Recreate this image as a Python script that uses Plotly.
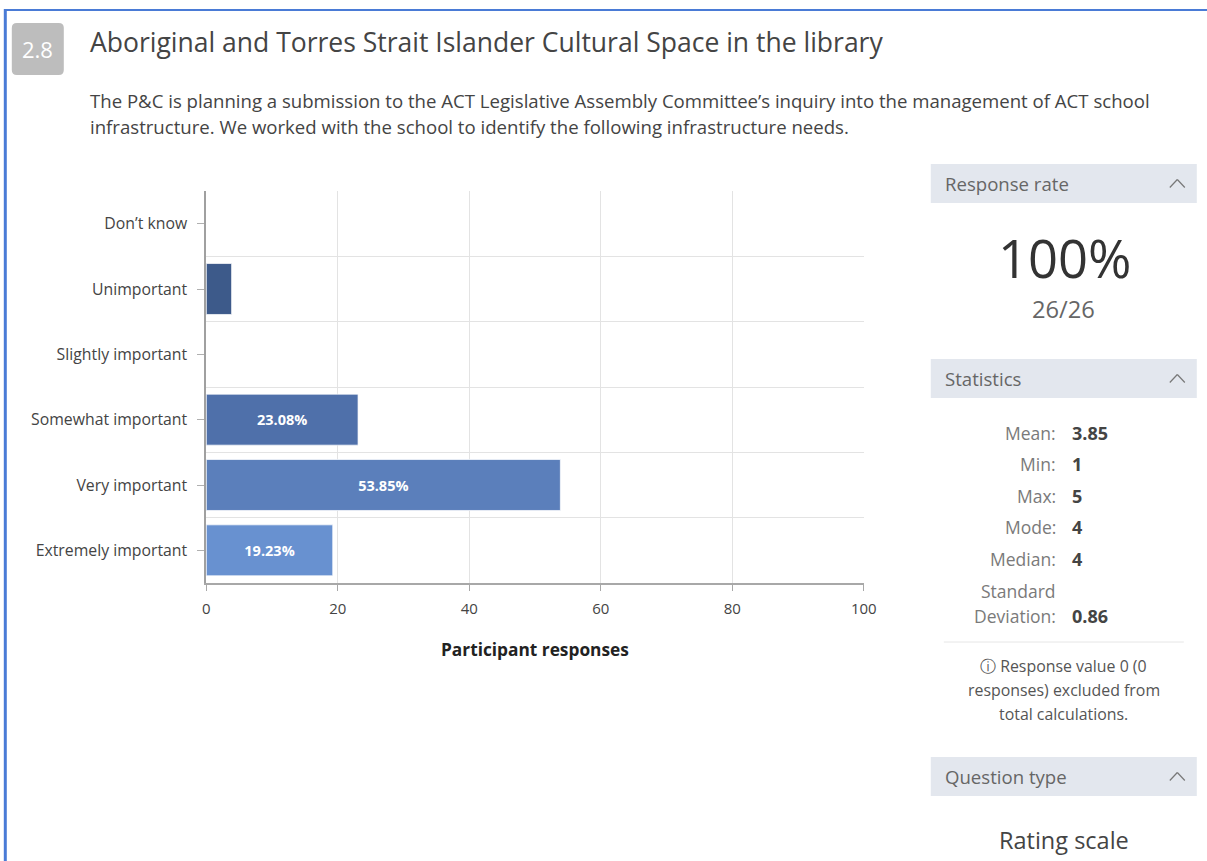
import plotly.graph_objects as go

# Survey question 2.8 results
categories = ["Don’t know", "Unimportant", "Slightly important",
              "Somewhat important", "Very important", "Extremely important"]
percentages = [0.0, 3.85, 0.0, 23.08, 53.85, 19.23]
bar_colors = ["#3a5a8c", "#3d5a8a", "#4a6aa3", "#4f70aa", "#5b7fbb", "#6891d0"]
x_ticks = [0, 20, 40, 60, 80, 100]

stat_labels = ["Mean:", "Min:", "Max:", "Mode:", "Median:"]
stat_values = ["3.85", "1", "5", "4", "4"]
std_dev = "0.86"
responses, total = 26, 26

W, H = 1207, 861
FONT = "Open Sans"
# page grid used for placing panels and text (pixel units)
GRID_X0, GRID_W = 4.2, 1190.0


def px(x):
    return (x - GRID_X0) / GRID_W


def py(y):
    return 1 - y / H


labels = [f"<b>{v:.2f}%</b>" if v >= 10 else "" for v in percentages]

fig = go.Figure()
fig.add_trace(go.Bar(
    x=percentages,
    y=list(range(len(categories))),
    orientation="h",
    width=0.78,
    marker=dict(color=bar_colors, line=dict(color="rgba(255,255,255,0.7)", width=1)),
    text=labels,
    textposition="inside",
    insidetextanchor="middle",
    textfont=dict(family=FONT, size=14.5, color="white"),
    hoverinfo="skip",
))

fig.update_layout(
    width=W, height=H, autosize=False,
    margin=dict(l=0, r=0, t=0, b=0),
    paper_bgcolor="white", plot_bgcolor="white",
    showlegend=False,
    font=dict(family=FONT, color="#444"),
    xaxis=dict(
        domain=[px(206.5), px(864)],
        range=[0, 100], tickvals=x_ticks,
        showgrid=True, gridcolor="#e3e3e3", gridwidth=1,
        zeroline=False,
        showline=True, linecolor="#a8a8a8", linewidth=2,
        ticks="outside", ticklen=6, tickcolor="#a8a8a8",
        ticklabelstandoff=5,
        tickfont=dict(family=FONT, size=15, color="#444"),
        fixedrange=True,
    ),
    yaxis=dict(
        domain=[py(583), py(191)],
        range=[5.5, -0.5],
        tickvals=list(range(len(categories))), ticktext=categories,
        showgrid=False, zeroline=False,
        showline=True, linecolor="#a0a0a0", linewidth=2,
        ticks="outside", ticklen=7, tickcolor="#b0b0b0",
        ticklabelstandoff=7,
        tickfont=dict(family=FONT, size=15.8, color="#444"),
        minor=dict(tickvals=[i - 0.5 for i in range(len(categories) + 1)],
                   showgrid=True, gridcolor="#e3e3e3", gridwidth=1, ticks=""),
        fixedrange=True,
    ),
)

shapes = []
ann = []

# Page frame
shapes.append(dict(type="line", xref="paper", yref="paper",
                   x0=px(5), x1=px(1210), y0=py(10), y1=py(10),
                   line=dict(color="#4a7bd6", width=2)))
shapes.append(dict(type="line", xref="paper", yref="paper",
                   x0=px(5.5), x1=px(5.5), y0=py(9), y1=0,
                   line=dict(color="#4a7bd6", width=3)))

# Question number badge (rounded square)
x0, x1, y0, y1, r = 12, 64, 23, 75, 5
path = (f"M {px(x0 + r)},{py(y0)} L {px(x1 - r)},{py(y0)} "
        f"Q {px(x1)},{py(y0)} {px(x1)},{py(y0 + r)} L {px(x1)},{py(y1 - r)} "
        f"Q {px(x1)},{py(y1)} {px(x1 - r)},{py(y1)} L {px(x0 + r)},{py(y1)} "
        f"Q {px(x0)},{py(y1)} {px(x0)},{py(y1 - r)} L {px(x0)},{py(y0 + r)} "
        f"Q {px(x0)},{py(y0)} {px(x0 + r)},{py(y0)} Z")
shapes.append(dict(type="path", xref="paper", yref="paper", path=path,
                   fillcolor="#bdbdbd", line=dict(width=0)))
ann.append(dict(text="2.8", x=px(38), y=py(49), font=dict(size=22, color="white")))

# Title and description
ann.append(dict(text="Aboriginal and Torres Strait Islander Cultural Space in the library",
                x=px(88), y=py(42), xanchor="left", font=dict(size=26.5, color="#444")))
ann.append(dict(text="The P&C is planning a submission to the ACT Legislative Assembly Committee’s "
                     "inquiry into the management of ACT school",
                x=px(88), y=py(100), xanchor="left", font=dict(size=18.6, color="#444")))
ann.append(dict(text="infrastructure. We worked with the school to identify the following infrastructure needs.",
                x=px(88), y=py(126), xanchor="left", font=dict(size=18.6, color="#444")))

# Axis title
ann.append(dict(text="<b>Participant responses</b>", x=px(535), y=py(649),
                font=dict(size=17.3, color="#222")))


def panel_header(title, top, bottom):
    shapes.append(dict(type="rect", xref="paper", yref="paper",
                       x0=px(931), x1=px(1197), y0=py(bottom), y1=py(top),
                       fillcolor="#e3e7ee", line=dict(width=0)))
    mid = (top + bottom) / 2
    ann.append(dict(text=title, x=px(943), y=py(mid), xanchor="left",
                    font=dict(size=18.6, color="#666")))
    # collapse chevron
    for xa, xb in ((1170, 1177.5), (1177.5, 1185)):
        shapes.append(dict(type="line", xref="paper", yref="paper",
                           x0=px(xa), x1=px(xb),
                           y0=py(mid + 4 if xa == 1170 else mid - 4),
                           y1=py(mid - 4 if xa == 1170 else mid + 4),
                           line=dict(color="#777", width=1.2)))


panel_header("Response rate", 164, 203)
ann.append(dict(text=f"{round(100 * responses / total)}%", x=px(1065), y=py(257),
                font=dict(size=52.5, color="#333")))
ann.append(dict(text=f"{responses}/{total}", x=px(1064), y=py(309),
                font=dict(size=23.7, color="#666")))

panel_header("Statistics", 359, 398)
stat_y = [433, 464, 496, 527, 559]
for lab, val, yy in zip(stat_labels, stat_values, stat_y):
    ann.append(dict(text=lab, x=px(1058), y=py(yy), xanchor="right",
                    font=dict(size=17.5, color="#7a7a7a")))
    ann.append(dict(text=f"<b>{val}</b>", x=px(1070), y=py(yy), xanchor="left",
                    font=dict(size=18, color="#444")))
ann.append(dict(text="Standard", x=px(1058), y=py(591), xanchor="right",
                font=dict(size=17.5, color="#7a7a7a")))
ann.append(dict(text="Deviation:", x=px(1058), y=py(616), xanchor="right",
                font=dict(size=17.5, color="#7a7a7a")))
ann.append(dict(text=f"<b>{std_dev}</b>", x=px(1070), y=py(616), xanchor="left",
                font=dict(size=18, color="#444")))
shapes.append(dict(type="line", xref="paper", yref="paper",
                   x0=px(944), x1=px(1184), y0=py(642), y1=py(642),
                   line=dict(color="#e6e6e6", width=1)))
for txt, yy in (("ⓘ Response value 0 (0", 666), ("responses) excluded from", 690),
                ("total calculations.", 714)):
    ann.append(dict(text=txt, x=px(1064), y=py(yy), font=dict(size=15.9, color="#555")))

panel_header("Question type", 757, 796)
ann.append(dict(text="Rating scale", x=px(1064), y=py(840),
                font=dict(size=23.5, color="#444")))

for a in ann:
    a.update(xref="paper", yref="paper", showarrow=False)
    a.setdefault("xanchor", "center")
    a.setdefault("yanchor", "middle")
    a["font"].setdefault("family", FONT)

fig.update_layout(shapes=shapes, annotations=ann)
fig.write_html("out.html", config={"displayModeBar": False, "responsive": False})
